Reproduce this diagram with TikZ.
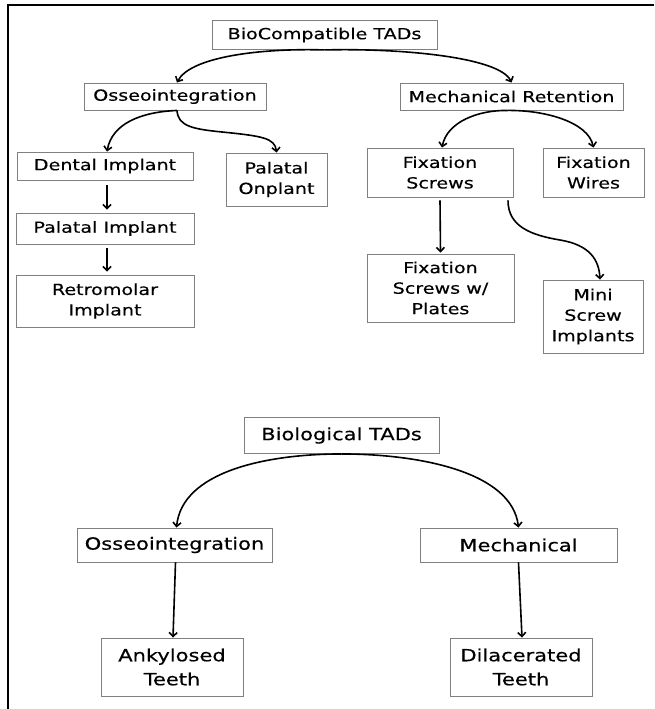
\documentclass[tikz,border=0pt]{standalone}
\usepackage{fontspec}
\setmainfont{DejaVu Sans}[FakeStretch=1.25,FakeBold=0.35]
\usetikzlibrary{arrows.meta}
\begin{document}
\begin{tikzpicture}[x=1pt,y=-1pt,
  box/.style={draw=black!50, line width=0.9pt, inner sep=0pt, align=center,
    font=\fontsize{15.3}{20.5}\selectfont},
  bigbox/.style={box, font=\fontsize{16.8}{24}\selectfont},
  link/.style={line width=1.6pt, -{Straight Barb[length=4pt,width=8pt]}},
  frame/.style={line width=2.2pt, black}]
\useasboundingbox (0,0) rectangle (654,709);
\draw[frame] (654,5) -- (8,5) -- (8,709);

% upper tree
\node[box, minimum width=225pt, minimum height=29pt] (bio) at (324.5,35) {BioCompatible TADs};
\node[box, minimum width=182pt, minimum height=27pt] (osseoT) at (175,96.5) {Osseointegration};
\node[box, minimum width=223pt, minimum height=27pt] (mechR) at (511.5,96.5) {Mechanical Retention};
\node[box, minimum width=176pt, minimum height=28pt] (dental) at (105,166) {Dental Implant};
\node[box, minimum width=101pt, minimum height=53pt] (onplant) at (276.5,179.5) {Palatal\\Onplant};
\node[box, minimum width=146pt, minimum height=49pt] (fscrews) at (440,172.5) {Fixation\\Screws};
\node[box, minimum width=101pt, minimum height=49pt] (fwires) at (593.5,172.5) {Fixation\\Wires};
\node[box, minimum width=178pt, minimum height=31pt] (palimp) at (105,228.5) {Palatal Implant};
\node[box, minimum width=178pt, minimum height=52pt] (retro) at (105,301) {Retromolar\\Implant};
\node[box, minimum width=147pt, minimum height=68pt] (fsplates) at (440.5,288) {Fixation\\Screws w/\\Plates};
\node[box, minimum width=100pt, minimum height=73pt] (mini) at (593,316.5) {Mini\\Screw\\Implants};

\draw[link] (bio.south) .. controls (260,48) and (190,57) .. ([xshift=2pt]osseoT.north);
\draw[link] (bio.south) .. controls (400,48) and (500,57) .. (mechR.north);
\draw[link] ([xshift=2pt]osseoT.south) .. controls (140,112) and (112,124) .. ([xshift=2pt]dental.north);
\draw[link] ([xshift=2pt]osseoT.south) .. controls (178,126) and (192,129) .. (222,132)
   .. controls (262,136) and (275,138) .. (onplant.north);
\draw[link] ([xshift=-4pt]mechR.south) .. controls (478,110) and (447,122) .. ([xshift=2pt]fscrews.north);
\draw[link] ([xshift=-4pt]mechR.south) .. controls (545,110) and (588,122) .. (fwires.north);
\draw[link] ([xshift=2pt,yshift=-5pt]dental.south) -- ([xshift=2pt,yshift=3pt]palimp.north);
\draw[link] ([xshift=2pt,yshift=-4pt]palimp.south) -- ([xshift=2pt,yshift=3pt]retro.north);
\draw[link] ([yshift=-3pt]fscrews.south) -- ([yshift=1pt]fsplates.north);
\draw[link] ([xshift=68pt,yshift=-3pt]fscrews.south) .. controls (508,226) and (530,235) .. (560,240)
   .. controls (590,245) and (599,260) .. ([xshift=7pt]mini.north);

% lower tree
\node[bigbox, minimum width=195pt, minimum height=36pt] (biol) at (341.5,435.5) {Biological TADs};
\node[bigbox, minimum width=195pt, minimum height=34pt] (osseoB) at (174.5,545) {Osseointegration};
\node[bigbox, minimum width=197pt, minimum height=34pt] (mech) at (518.5,545) {Mechanical};
\node[bigbox, minimum width=142pt, minimum height=58pt] (ankyl) at (172,667) {Ankylosed\\Teeth};
\node[bigbox, minimum width=142pt, minimum height=58pt] (dilac) at (521,667) {Dilacerated\\Teeth};

\draw[link] (biol.south) .. controls (265,454) and (182,472) .. ([xshift=2pt]osseoB.north);
\draw[link] (biol.south) .. controls (420,454) and (512,472) .. (mech.north);
\draw[link] ([xshift=1pt]osseoB.south) -- ([xshift=1pt]ankyl.north);
\draw[link] (mech.south) -- ([xshift=1pt]dilac.north);
\end{tikzpicture}
\end{document}
